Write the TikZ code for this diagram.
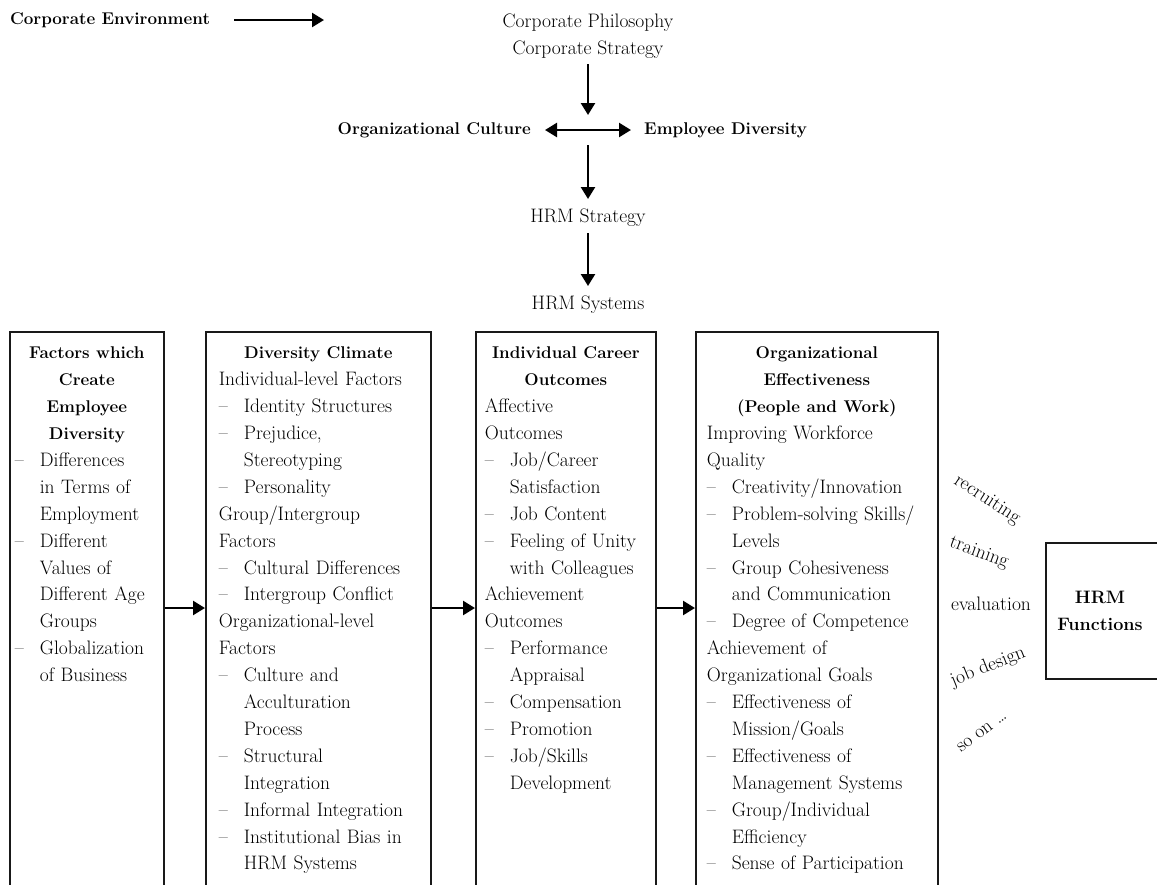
\documentclass[tikz,border=0pt]{standalone}
\usepackage{fontspec}
\usetikzlibrary{arrows.meta}

\newcommand{\regf}{\fontsize{19.5}{26.9}\selectfont}
\newcommand{\headf}{\fontsize{17}{26.9}\selectfont\bfseries}
\newlength{\dashw}
\setlength{\dashw}{25pt}
\newcommand{\dsh}{\makebox[\dashw][l]{--}}
\newcommand{\ind}{\hspace*{\dashw}}

\tikzset{
  flow/.style={line width=2.4pt, -{Triangle[length=12pt, width=14pt]}},
  twoway/.style={line width=2.4pt, {Triangle[length=12pt, width=14pt]}-{Triangle[length=12pt, width=14pt]}},
  topword/.style={inner sep=0pt, font=\regf},
  tophead/.style={inner sep=0pt, font=\headf},
  colbox/.style={draw=black!90, line width=1.7pt, anchor=north west, inner ysep=0pt,
    text height=27pt, text depth=560pt, font=\regf, align=left},
  hrmword/.style={inner sep=0pt, font=\regf}
}

\begin{document}
\begin{tikzpicture}[x=1pt, y=-1pt]
  \useasboundingbox (0,0) rectangle (1157,884);
  \clip (0,0) rectangle (1157,884);

  \node[tophead] (env) at (110,20) {Corporate Environment};
  \coordinate (envtip) at (324,20);
  \draw[flow, shorten <=24pt] (env.east) -- (envtip);

  \node[topword, align=center] (phil) at (588,36) {Corporate Philosophy\\Corporate Strategy};
  \coordinate (hub) at (588,130);
  \node[tophead, anchor=east] (culture) at (531,130) {Organizational Culture};
  \node[tophead, anchor=west] (empdiv) at (644,130) {Employee Diversity};
  \node[topword] (hstrat) at (588,218) {HRM Strategy};
  \node[topword] (hsys) at (588,305) {HRM Systems};

  \draw[flow, shorten <=6pt, shorten >=15pt] (phil.south) -- (hub);
  \draw[twoway, shorten <=14pt, shorten >=13pt] (culture.east) -- (empdiv.west);
  \draw[flow, shorten <=15pt, shorten >=10pt] (hub) -- (hstrat);
  \draw[flow, shorten <=6pt, shorten >=10pt] (hstrat) -- (hsys);

  \node[colbox, inner xsep=5pt, text width=144pt] (f1) at (9,331) {%
    {\centering\headf Factors which\\Create\\Employee\\Diversity\par}
    \dsh Differences\\
    \ind in Terms of\\
    \ind Employment\\
    \dsh Different\\
    \ind Values of\\
    \ind Different Age\\
    \ind Groups\\
    \dsh Globalization\\
    \ind of Business};

  \node[colbox, inner xsep=13pt, text width=199pt] (f2) at (205,331) {%
    {\centering\headf Diversity Climate\par}
    Individual-level Factors\\
    \dsh Identity Structures\\
    \dsh Prejudice,\\
    \ind Stereotyping\\
    \dsh Personality\\
    Group/Intergroup\\
    Factors\\
    \dsh Cultural Differences\\
    \dsh Intergroup Conflict\\
    Organizational-level\\
    Factors\\
    \dsh Culture and\\
    \ind Acculturation\\
    \ind Process\\
    \dsh Structural\\
    \ind Integration\\
    \dsh Informal Integration\\
    \dsh Institutional Bias in\\
    \ind HRM Systems};

  \node[colbox, inner xsep=9pt, text width=162pt] (f3) at (475,331) {%
    {\centering\headf Individual Career\\Outcomes\par}
    Affective\\
    Outcomes\\
    \dsh Job/Career\\
    \ind Satisfaction\\
    \dsh Job Content\\
    \dsh Feeling of Unity\\
    \ind with Colleagues\\
    Achievement\\
    Outcomes\\
    \dsh Performance\\
    \ind Appraisal\\
    \dsh Compensation\\
    \dsh Promotion\\
    \dsh Job/Skills\\
    \ind Development};

  \node[colbox, inner xsep=11pt, text width=220pt] (f4) at (695,331) {%
    {\centering\headf Organizational\\Effectiveness\\(People and Work)\par}
    Improving Workforce\\
    Quality\\
    \dsh Creativity/Innovation\\
    \dsh Problem-solving Skills/\\
    \ind Levels\\
    \dsh Group Cohesiveness\\
    \ind and Communication\\
    \dsh Degree of Competence\\
    Achievement of\\
    Organizational Goals\\
    \dsh Effectiveness of\\
    \ind Mission/Goals\\
    \dsh Effectiveness of\\
    \ind Management Systems\\
    \dsh Group/Individual\\
    \ind Efficiency\\
    \dsh Sense of Participation};

  \coordinate (row) at (0,608);
  \draw[flow] (f1.east |- row) -- (f2.west |- row);
  \draw[flow] (f2.east |- row) -- (f3.west |- row);
  \draw[flow] (f3.east |- row) -- (f4.west |- row);

  \node[draw=black!90, line width=1.7pt, anchor=north west, minimum width=140pt,
    minimum height=136pt] (hrmbox) at (1045,542) {};
  \node[tophead, align=center, font=\fontsize{18}{26.9}\selectfont\bfseries] (hrmf) at (1100,611) {HRM\\Functions};

  \node[hrmword, rotate=-33] (recr) at (987,500) {recruiting};
  \node[hrmword, rotate=-20] (train) at (979,553) {training};
  \node[hrmword] (evalu) at (991,604) {evaluation};
  \node[hrmword, rotate=22] (jobd) at (988,667) {job design};
  \node[hrmword, rotate=37] (soon) at (982,732) {so on \dots};
\end{tikzpicture}
\end{document}
